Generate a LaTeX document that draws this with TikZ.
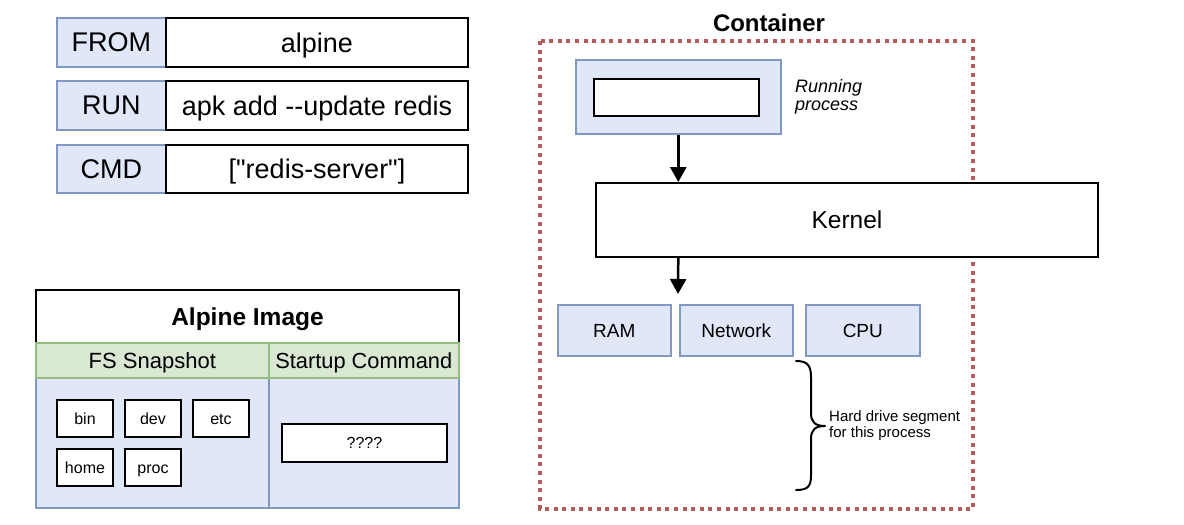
\documentclass[tikz,border=0pt]{standalone}
\usepackage{fontspec}
\setmainfont{Liberation Sans}
\newfontfamily\rawfont{Liberation Sans}
\usetikzlibrary{arrows.meta}
\definecolor{bfill}{HTML}{DFE7F9}
\definecolor{bline}{HTML}{7F98C4}
\definecolor{gfill}{HTML}{D8E8D3}
\definecolor{gline}{HTML}{94BC7C}
\definecolor{cline}{HTML}{B05C5A}
\newcommand{\fsz}[1]{\fontsize{#1}{#1}\selectfont}
\tikzset{
  fs/.style 2 args={font=#1\fsz{#2},text height=0.716*#2pt,text depth=0pt},
  bluebox/.style={draw=bline,fill=bfill,line width=1.6pt,inner sep=0pt,anchor=north west},
  greenbox/.style={draw=gline,fill=gfill,line width=1.6pt,inner sep=0pt,anchor=north west},
  whitebox/.style={draw=black,fill=white,line width=2pt,inner sep=0pt,anchor=north west},
  kwtext/.style={fs={}{27}},
  smalltext/.style={fs={}{16}},
  arr/.style={line width=2.5pt,-{Triangle[length=15pt,width=16pt]}},
}
\begin{document}
\begin{tikzpicture}[x=1pt,y=-1pt]
\useasboundingbox[fill=white] (0,0) rectangle (1184,525);
% Dockerfile
\node[bluebox,kwtext,minimum width=109,minimum height=49] (from) at (56,17) {FROM};
\node[whitebox,kwtext,minimum width=302,minimum height=49] (fromv) at (165,17) {alpine};
\node[bluebox,kwtext,minimum width=109,minimum height=49] (run) at (56,80) {RUN};
\node[whitebox,kwtext,minimum width=302,minimum height=49] (runv) at (165,80) {apk add -{}-update redis};
\node[bluebox,kwtext,minimum width=109,minimum height=48] (cmd) at (56,144) {CMD};
\node[whitebox,kwtext,minimum width=302,minimum height=48] (cmdv) at (165,144) {\rawfont["redis-server"]};
% Alpine image
\node[whitebox,fs={\bfseries}{24.5},minimum width=423,minimum height=53] (img) at (35,289) {Alpine Image};
\node[bluebox,minimum width=233,minimum height=130] (fsbody) at (35,377) {};
\node[bluebox,minimum width=190,minimum height=130] (stbody) at (268,377) {};
\node[greenbox,fs={}{22},minimum width=233,minimum height=35] (fs) at (35,342) {FS Snapshot};
\node[greenbox,fs={}{21.8},minimum width=190,minimum height=35] (st) at (268,342) {Startup Command};
\node[whitebox,smalltext,minimum width=56,minimum height=37] (bin) at (56,399) {bin};
\node[whitebox,smalltext,minimum width=56,minimum height=37] (dev) at (124,399) {dev};
\node[whitebox,smalltext,minimum width=56,minimum height=37] (etc) at (192,399) {etc};
\node[whitebox,smalltext,minimum width=56,minimum height=37] (home) at (56,448) {home};
\node[whitebox,smalltext,minimum width=56,minimum height=37] (proc) at (124,448) {proc};
\node[whitebox,smalltext,minimum width=165,minimum height=38] (qq) at (281,423) {????};
% Container
\draw[cline,line width=4pt,dash pattern=on 4pt off 4.6pt] (540,41) rectangle (973,509);
\node[fs={\bfseries}{24},inner sep=0pt] (ctitle) at (769,23) {Container};
\node[bluebox,minimum width=205,minimum height=74] (runp) at (575,59) {};
\node[whitebox,minimum width=165,minimum height=37] (runin) at (593,78) {};
\node[font=\itshape\fontsize{18}{18}\selectfont,align=left,anchor=west,inner sep=0pt] (runlbl) at (795,97) {Running\\process};
\node[whitebox,fs={}{24.5},minimum width=502,minimum height=74] (kern) at (595,182) {Kernel};
\coordinate (hwtip) at (678,294);
\draw[arr] (runp.south) -- (runp.south |- kern.north);
\draw[arr] (kern.south -| runp.south) -- (hwtip);
\node[bluebox,fs={}{19},minimum width=113,minimum height=51] (ram) at (557,304) {RAM};
\node[bluebox,fs={}{19},minimum width=113,minimum height=51] (net) at (679,304) {Network};
\node[bluebox,fs={}{19},minimum width=114,minimum height=51] (cpu) at (805,304) {CPU};
% brace
\draw[line width=2pt,line cap=round,line join=round]
  (796,361) .. controls (807,361) and (811,365) .. (811,377) -- (811,413)
  .. controls (811,422) and (815,426) .. (825,426)
  .. controls (815,426) and (811,430) .. (811,439) -- (811,476)
  .. controls (811,487) and (807,490) .. (796,490);
\node[font=\fontsize{15}{16}\selectfont,align=left,anchor=west,inner sep=0pt] (hd) at (829,426) {Hard drive segment\\for this process};
\end{tikzpicture}
\end{document}
